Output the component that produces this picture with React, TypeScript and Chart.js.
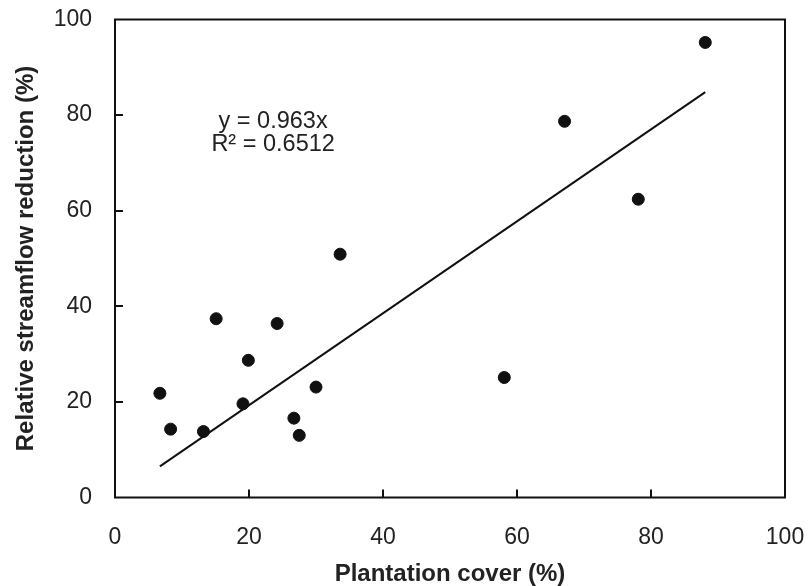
import React, { useEffect, useRef } from "react";
import { Chart, registerables } from "chart.js";

Chart.register(...registerables);

// Data
const coverPct = [6.7, 8.3, 13.2, 15.1, 19.1, 19.9, 24.2, 26.7, 27.5, 30.0, 33.6, 58.1, 67.1, 78.1, 88.1];
const reductionPct = [21.8, 14.3, 13.8, 37.4, 19.6, 28.7, 36.4, 16.6, 13.0, 23.1, 50.9, 25.1, 78.7, 62.4, 95.2];
const trendX = [6.7, 88.1];
const trendY = [6.5, 84.8];
const xTickValues = [0, 20, 40, 60, 80, 100];
const yTickValues = [0, 20, 40, 60, 80, 100];
const equationLines = ["y = 0.963x", "R² = 0.6512"];
const equationAnchor = { x: 23.6, y: [78.6, 73.9] };
const xTitle = "Plantation cover (%)";
const yTitle = "Relative streamflow reduction (%)";

const FONT = "'Liberation Sans', Arial, Helvetica, sans-serif";
const INK = "#111111";

const framePlugin = {
  id: "frameAndNotes",
  afterDatasetsDraw(chart: any) {
    const { ctx, chartArea, scales } = chart;
    const xs = scales.x;
    const ys = scales.y;
    ctx.save();
    ctx.strokeStyle = INK;
    ctx.lineWidth = 2;
    ctx.strokeRect(chartArea.left, chartArea.top, chartArea.right - chartArea.left, chartArea.bottom - chartArea.top);
    // inward ticks
    ctx.beginPath();
    xTickValues.slice(1, -1).forEach((v) => {
      const px = Math.round(xs.getPixelForValue(v));
      ctx.moveTo(px, chartArea.bottom);
      ctx.lineTo(px, chartArea.bottom - 8);
    });
    yTickValues.slice(1, -1).forEach((v) => {
      const py = Math.round(ys.getPixelForValue(v));
      ctx.moveTo(chartArea.left, py);
      ctx.lineTo(chartArea.left + 8, py);
    });
    ctx.stroke();
    // equation
    ctx.fillStyle = "#222222";
    ctx.font = `23.5px ${FONT}`;
    ctx.textAlign = "center";
    ctx.textBaseline = "middle";
    equationLines.forEach((t, i) => {
      ctx.fillText(t, xs.getPixelForValue(equationAnchor.x), ys.getPixelForValue(equationAnchor.y[i]));
    });
    ctx.restore();
  },
};

export default function App() {
  const ref = useRef<HTMLCanvasElement | null>(null);
  useEffect(() => {
    if (!ref.current) return;
    const chart = new Chart(ref.current, {
      type: "scatter",
      data: {
        datasets: [
          {
            type: "line",
            data: trendX.map((x, i) => ({ x, y: trendY[i] })),
            borderColor: INK,
            borderWidth: 2,
            pointRadius: 0,
            fill: false,
          } as any,
          {
            type: "scatter",
            data: coverPct.map((x, i) => ({ x, y: reductionPct[i] })),
            backgroundColor: INK,
            borderColor: INK,
            pointRadius: 6,
            pointHoverRadius: 6,
          },
        ],
      },
      options: {
        responsive: false,
        animation: false,
        events: [],
        layout: { padding: { top: 19.5, right: 24, left: 0, bottom: 0 } },
        plugins: { legend: { display: false }, tooltip: { enabled: false } },
        scales: {
          x: {
            type: "linear",
            min: 0,
            max: 100,
            afterBuildTicks: (s: any) => {
              s.ticks = xTickValues.map((v) => ({ value: v }));
            },
            afterFit: (s: any) => {
              s.height = 88.5;
              s.paddingLeft = 0;
              s.paddingRight = 0;
            },
            grid: { display: false, drawTicks: false },
            border: { display: false },
            ticks: {
              color: "#222222",
              font: { family: FONT, size: 23 },
              padding: 26,
              maxRotation: 0,
            },
            title: {
              display: true,
              text: xTitle,
              color: "#222222",
              font: { family: FONT, size: 24, weight: "bold", lineHeight: 1 },
              padding: { top: 0, bottom: 0 },
            },
          },
          y: {
            type: "linear",
            min: 0,
            max: 100,
            afterBuildTicks: (s: any) => {
              s.ticks = yTickValues.map((v) => ({ value: v }));
            },
            afterFit: (s: any) => {
              s.width = 115;
              s.paddingTop = 0;
              s.paddingBottom = 0;
            },
            grid: { display: false, drawTicks: false },
            border: { display: false },
            ticks: {
              color: "#222222",
              font: { family: FONT, size: 23 },
              padding: 23,
            },
            title: {
              display: true,
              text: yTitle,
              color: "#222222",
              font: { family: FONT, size: 24, weight: "bold", lineHeight: 1.2 },
              padding: { top: 12, bottom: 0 },
            },
          },
        },
      },
      plugins: [framePlugin],
    });
    return () => chart.destroy();
  }, []);
  return (
    <div style={{ position: "absolute", left: 0, top: 0, width: 809, height: 586, background: "#fff" }}>
      <canvas ref={ref} width={809} height={586} style={{ display: "block" }} />
    </div>
  );
}
